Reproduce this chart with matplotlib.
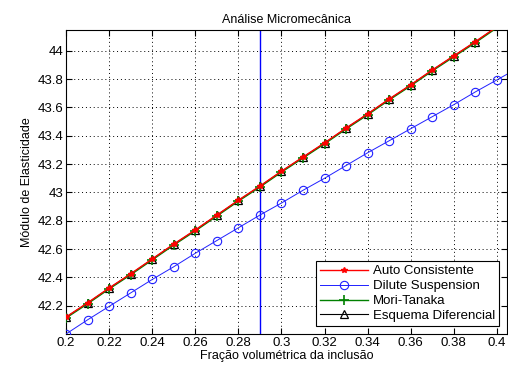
import matplotlib.pyplot as plt
import numpy as np

plt.rcParams['font.family'] = ['Liberation Sans', 'DejaVu Sans']

# volume fraction of inclusions
fracao = [0.20, 0.21, 0.22, 0.23, 0.24, 0.25, 0.26, 0.27, 0.28, 0.29, 0.30,
          0.31, 0.32, 0.33, 0.34, 0.35, 0.36, 0.37, 0.38, 0.39, 0.40, 0.41]

# elastic modulus from each micromechanics scheme
auto_consistente = [42.12, 42.22, 42.325, 42.425, 42.53, 42.635, 42.735, 42.84,
                    42.945, 43.045, 43.15, 43.25, 43.35, 43.455, 43.555, 43.66,
                    43.76, 43.865, 43.965, 44.065, 44.17, 44.27]
dilute = [42.0, 42.10, 42.195, 42.29, 42.385, 42.475, 42.57, 42.66, 42.75,
          42.84, 42.925, 43.015, 43.10, 43.19, 43.28, 43.365, 43.45, 43.535,
          43.62, 43.71, 43.795, 43.88]
mori_tanaka = [42.113, 42.213, 42.318, 42.418, 42.523, 42.628, 42.728, 42.833,
               42.938, 43.038, 43.143, 43.243, 43.343, 43.448, 43.548, 43.653,
               43.753, 43.858, 43.958, 44.058, 44.163, 44.263]
diferencial = [42.118, 42.218, 42.323, 42.423, 42.528, 42.633, 42.733, 42.838,
               42.943, 43.043, 43.148, 43.248, 43.348, 43.453, 43.553, 43.658,
               43.758, 43.863, 43.963, 44.063, 44.168, 44.268]

fracao_corte = 0.29

ymax = 44.148
fig = plt.figure(figsize=(5.08, 3.65), dpi=100)
ax = fig.add_axes([0.130, 0.085, 0.868, 0.833])


def dentro(ys):
    # markers only for points inside the y range
    return [i for i, y in enumerate(ys) if y <= ymax]


ax.plot(fracao, auto_consistente, 'r-*', lw=1, ms=4, zorder=5,
        markevery=dentro(auto_consistente), label='Auto Consistente')
ax.plot(fracao, dilute, '-o', color='#2020ff', lw=0.7, ms=6, mfc='none', mew=0.8,
        zorder=3, markevery=dentro(dilute), label='Dilute Suspension')
ax.plot(fracao, mori_tanaka, 'g-+', lw=1, ms=7, mew=1.2, zorder=4,
        markevery=dentro(mori_tanaka), label='Mori-Tanaka')
ax.plot(fracao, diferencial, 'k-^', lw=0.8, ms=6, mfc='none', mew=0.9, zorder=3,
        markevery=dentro(diferencial), label='Esquema Diferencial')
ax.axvline(fracao_corte, color='b', lw=1, zorder=2)

ax.set_xlim(0.2, 0.4047)
ax.set_ylim(42.0, ymax)
ax.set_xticks(np.arange(0.2, 0.401, 0.02))
ax.set_xticklabels(['0.2', '0.22', '0.24', '0.26', '0.28', '0.3', '0.32', '0.34', '0.36', '0.38', '0.4'])
ax.set_yticks([42.2, 42.4, 42.6, 42.8, 43.0, 43.2, 43.4, 43.6, 43.8, 44.0])
ax.set_yticklabels(['42.2', '42.4', '42.6', '42.8', '43', '43.2', '43.4', '43.6', '43.8', '44'])
ax.tick_params(direction='in', top=True, right=True, labelsize=9.5, length=4, pad=2)
ax.grid(True, color='k', linestyle=(0, (1, 3)), lw=0.7)

ax.set_title('Análise Micromecânica', fontsize=9, pad=5)
ax.set_xlabel('Fração volumétrica da inclusão', fontsize=9, labelpad=1)
ax.set_ylabel('Módulo de Elasticidade', fontsize=9, labelpad=3)

leg = ax.legend(loc='lower right', fontsize=9.5, fancybox=False, framealpha=1,
                edgecolor='k', handlelength=3.6, borderaxespad=0.6,
                labelspacing=0.2, borderpad=0.3, handletextpad=0.4)
leg.get_frame().set_linewidth(0.8)
leg.set_zorder(10)

plt.savefig('out.png', dpi=100)
